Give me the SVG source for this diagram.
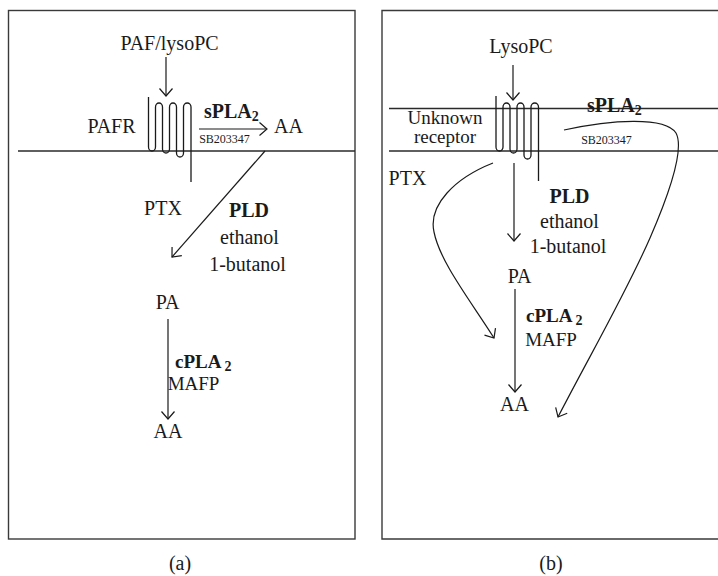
<svg xmlns="http://www.w3.org/2000/svg" width="718" height="576" viewBox="0 0 718 576">
<defs>
<style>
text{font-family:"Liberation Serif","Times New Roman",serif;fill:#1a1a1a;font-size:20px}
.m{text-anchor:middle}
.b{font-weight:bold}
.s{font-size:12px}
.t{font-size:19px}
.frame{fill:none;stroke:#3a3a3a;stroke-width:1.4}
.mem{fill:none;stroke:#2a2a2a;stroke-width:1.3}
.rec{fill:none;stroke:#1a1a1a;stroke-width:1.3}
.c{fill:none;stroke:#1a1a1a;stroke-width:1.2}
.arr{marker-end:url(#ah)}
</style>
<marker id="ah" viewBox="-9 -8 10 16" refX="0" refY="0" markerWidth="10" markerHeight="16" markerUnits="userSpaceOnUse" orient="auto">
<path d="M-7.5,-6.5 L0,0 L-7.5,6.5" fill="none" stroke="#1a1a1a" stroke-width="1.2"/>
</marker>
</defs>

<g id="panel-a-frame">
<rect class="frame" x="8.5" y="10.5" width="346.5" height="528.5"/>
<line class="mem" x1="18" y1="151" x2="355" y2="151"/>
</g>
<g id="panel-b-frame">
<path class="frame" d="M720,10.5 H382 V539 H720"/>
<line class="mem" x1="389" y1="108.5" x2="718" y2="108.5"/>
<line class="mem" x1="389" y1="151" x2="718" y2="151"/>
</g>

<g id="connectors">
<line class="c arr" x1="166" y1="57" x2="166" y2="96"/>
<line class="c arr" x1="199" y1="129" x2="267" y2="129"/>
<line class="c arr" x1="265" y1="151" x2="172" y2="257"/>
<line class="c arr" x1="168" y1="319" x2="168" y2="419"/>
<line class="c arr" x1="513" y1="65" x2="513" y2="100"/>
<line class="c arr" x1="514" y1="163" x2="514" y2="241"/>
<line class="c arr" x1="515" y1="289" x2="515" y2="392"/>
<path class="c arr" d="M493,163 C455,178 428,205 434,232 C440,262 470,300 494,338"/>
<path class="c arr" d="M564,130 C610,120 665,116 676,133 C684,148 673,185 650,238 C625,295 590,355 558,417"/>
</g>

<g id="receptor-a">
<path class="rec" d="M148.5,97 V147 A3.5,4 0 0 0 155.5,147 V107 A3.5,4 0 0 1 162.5,107 V149 A3.5,4 0 0 0 169.5,149 V107 A3.5,4 0 0 1 176.5,107 V153 A3.5,4 0 0 0 183.5,153 V107 A3.75,4 0 0 1 191,107 V182"/>
</g>
<g id="receptor-b">
<path class="rec" d="M496,96 V147 A3.5,4 0 0 0 503,147 V107 A3.5,4 0 0 1 510,107 V149 A3.5,4 0 0 0 517,149 V107 A3.5,4 0 0 1 524,107 V155 A3.5,4 0 0 0 531,155 V107 A3.75,4 0 0 1 538.5,107 V181"/>
</g>

<g id="labels-a">
<text class="m" x="169.5" y="50">PAF/lysoPC</text>
<text class="m" x="111.5" y="133">PAFR</text>
<text class="b" x="204" y="118">sPLA<tspan dy="3" font-size="14">2</tspan></text>
<text class="m s" x="224.5" y="143">SB203347</text>
<text class="m" x="288.5" y="133">AA</text>
<text class="m" x="163" y="215">PTX</text>
<text class="m b" x="249" y="217">PLD</text>
<text class="m" x="249.5" y="244">ethanol</text>
<text class="m" x="247.5" y="271">1-butanol</text>
<text class="m" x="167.5" y="309">PA</text>
<text class="b t" x="175" y="368">cPLA<tspan dx="3" dy="3" font-size="14">2</tspan></text>
<text class="m t" x="193.5" y="390">MAFP</text>
<text class="m" x="168" y="438">AA</text>
<text class="m" x="180" y="570" font-size="17">(a)</text>
</g>

<g id="labels-b">
<text class="m" x="521" y="53">LysoPC</text>
<text class="m t" x="445" y="124">Unknown</text>
<text class="m t" x="445" y="143">receptor</text>
<text class="b" x="587" y="112">sPLA<tspan dy="3" font-size="14">2</tspan></text>
<text class="m s" x="606.5" y="144">SB203347</text>
<text class="m" x="407.5" y="185">PTX</text>
<text class="m b" x="569.5" y="203">PLD</text>
<text class="m" x="569.5" y="228">ethanol</text>
<text class="m" x="568" y="253">1-butanol</text>
<text class="m" x="519.5" y="283">PA</text>
<text class="b t" x="526" y="322">cPLA<tspan dx="3" dy="3" font-size="14">2</tspan></text>
<text class="m t" x="551" y="346">MAFP</text>
<text class="m" x="514.5" y="411">AA</text>
<text class="m" x="551" y="570" font-size="17">(b)</text>
</g>
</svg>
